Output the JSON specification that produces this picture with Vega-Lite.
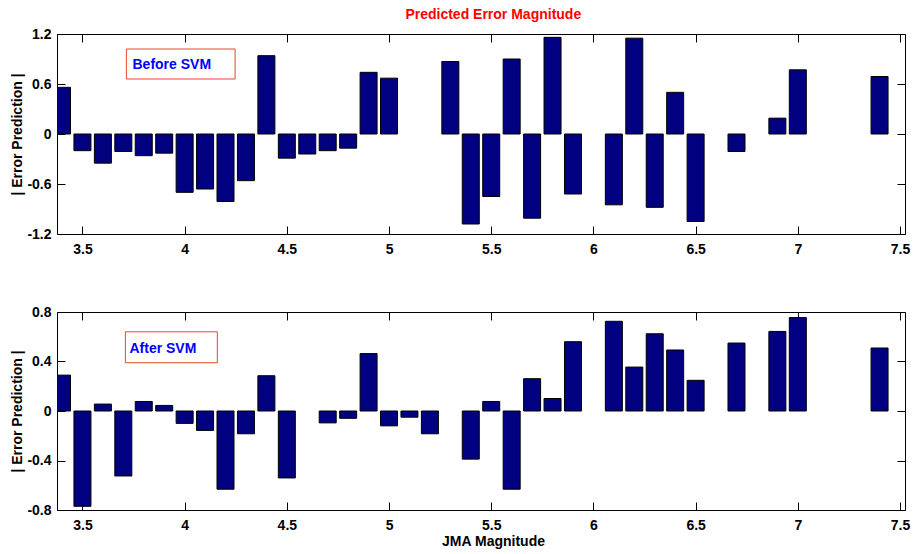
{
  "$schema": "https://vega.github.io/schema/vega-lite/v6.json",
  "background": "white",
  "padding": {"left": 10, "top": 7, "right": 3, "bottom": 4},
  "title": {"text": "Predicted Error Magnitude", "color": "#FF0000", "fontSize": 14, "font": "Liberation Sans", "fontWeight": "bold", "anchor": "middle", "dx": 33, "offset": 5},
  "spacing": 47,
  "config": {
    "font": "Liberation Sans",
    "view": {"stroke": "black", "strokeWidth": 1},
    "axis": {"grid": false, "domain": false, "tickColor": "black", "tickSize": -8, "tickWidth": 1, "labelFont": "Liberation Sans", "labelFontWeight": "bold", "labelFontSize": 14, "labelColor": "black", "titleFont": "Liberation Sans", "titleFontWeight": "bold", "titleFontSize": 14, "titleColor": "black"}
  },
  "datasets": {
    "before": [
      {"mag": 3.4, "err": 0.56}, {"mag": 3.5, "err": -0.2}, {"mag": 3.6, "err": -0.35}, {"mag": 3.7, "err": -0.21},
      {"mag": 3.8, "err": -0.26}, {"mag": 3.9, "err": -0.23}, {"mag": 4.0, "err": -0.7}, {"mag": 4.1, "err": -0.66},
      {"mag": 4.2, "err": -0.81}, {"mag": 4.3, "err": -0.56}, {"mag": 4.4, "err": 0.94}, {"mag": 4.5, "err": -0.29},
      {"mag": 4.6, "err": -0.24}, {"mag": 4.7, "err": -0.2}, {"mag": 4.8, "err": -0.17}, {"mag": 4.9, "err": 0.74},
      {"mag": 5.0, "err": 0.67}, {"mag": 5.3, "err": 0.87}, {"mag": 5.4, "err": -1.08}, {"mag": 5.5, "err": -0.75},
      {"mag": 5.6, "err": 0.9}, {"mag": 5.7, "err": -1.01}, {"mag": 5.8, "err": 1.16}, {"mag": 5.9, "err": -0.72},
      {"mag": 6.1, "err": -0.85}, {"mag": 6.2, "err": 1.15}, {"mag": 6.3, "err": -0.88}, {"mag": 6.4, "err": 0.5},
      {"mag": 6.5, "err": -1.05}, {"mag": 6.7, "err": -0.21}, {"mag": 6.9, "err": 0.19}, {"mag": 7.0, "err": 0.77},
      {"mag": 7.4, "err": 0.69}
    ],
    "after": [
      {"mag": 3.4, "err": 0.29}, {"mag": 3.5, "err": -0.77}, {"mag": 3.6, "err": 0.056}, {"mag": 3.7, "err": -0.525},
      {"mag": 3.8, "err": 0.077}, {"mag": 3.9, "err": 0.045}, {"mag": 4.0, "err": -0.1}, {"mag": 4.1, "err": -0.157},
      {"mag": 4.2, "err": -0.632}, {"mag": 4.3, "err": -0.184}, {"mag": 4.4, "err": 0.285}, {"mag": 4.5, "err": -0.541},
      {"mag": 4.7, "err": -0.096}, {"mag": 4.8, "err": -0.059}, {"mag": 4.9, "err": 0.464}, {"mag": 5.0, "err": -0.12},
      {"mag": 5.1, "err": -0.05}, {"mag": 5.2, "err": -0.184}, {"mag": 5.4, "err": -0.389}, {"mag": 5.5, "err": 0.077},
      {"mag": 5.6, "err": -0.632}, {"mag": 5.7, "err": 0.261}, {"mag": 5.8, "err": 0.101}, {"mag": 5.9, "err": 0.56},
      {"mag": 6.1, "err": 0.725}, {"mag": 6.2, "err": 0.355}, {"mag": 6.3, "err": 0.624}, {"mag": 6.4, "err": 0.493},
      {"mag": 6.5, "err": 0.248}, {"mag": 6.7, "err": 0.549}, {"mag": 6.9, "err": 0.643}, {"mag": 7.0, "err": 0.755},
      {"mag": 7.4, "err": 0.509}
    ]
  },
  "vconcat": [
    {
      "width": 848,
      "height": 200,
      "layer": [
        {
          "data": {"values": [{"label": "Before SVM"}]},
          "mark": {"type": "rect", "fill": "white", "stroke": "#E8452C", "strokeWidth": 1},
          "encoding": {
            "x": {"datum": 3.715, "type": "quantitative", "scale": {"domain": [3.4, 7.5], "nice": false, "zero": false}, "axis": {"orient": "top", "labels": false, "title": null, "values": [3.5, 4, 4.5, 5, 5.5, 6, 6.5, 7, 7.5]}},
            "x2": {"datum": 4.247},
            "y": {"datum": 1.02, "type": "quantitative", "scale": {"domain": [-1.2, 1.2], "nice": false, "zero": false}, "axis": {"orient": "right", "labels": false, "title": null, "values": [-1.2, -0.6, 0, 0.6, 1.2]}},
            "y2": {"datum": 0.66}
          }
        },
        {
          "data": {"values": [{"label": "Before SVM"}]},
          "mark": {"type": "text", "color": "#0000FF", "fontWeight": "bold", "fontSize": 14, "align": "left", "baseline": "middle", "font": "Liberation Sans"},
          "encoding": {
            "x": {"datum": 3.745, "type": "quantitative", "axis": null},
            "y": {"datum": 0.83, "type": "quantitative", "axis": null},
            "text": {"field": "label"}
          }
        },
        {
          "data": {"name": "before"},
          "mark": {"type": "bar", "width": 17, "fill": "#000080", "stroke": "black", "strokeWidth": 1, "clip": true},
          "encoding": {
            "x": {"field": "mag", "type": "quantitative", "axis": {"orient": "bottom", "title": null, "values": [3.5, 4, 4.5, 5, 5.5, 6, 6.5, 7, 7.5], "labelExpr": "'' + datum.value", "labelPadding": 16, "labelFlush": false}},
            "y": {"field": "err", "type": "quantitative", "axis": {"orient": "left", "title": "| Error Prediction |", "values": [-1.2, -0.6, 0, 0.6, 1.2], "labelExpr": "'' + datum.value", "labelPadding": 14, "titlePadding": 2}},
            "y2": {"datum": 0}
          }
        },
        {
          "mark": {"type": "rule", "color": "black", "strokeWidth": 1},
          "encoding": {"y": {"datum": 0, "type": "quantitative", "axis": null}}
        }
      ]
    },
    {
      "width": 848,
      "height": 198,
      "layer": [
        {
          "data": {"values": [{"label": "After SVM"}]},
          "mark": {"type": "rect", "fill": "white", "stroke": "#E8452C", "strokeWidth": 1},
          "encoding": {
            "x": {"datum": 3.71, "type": "quantitative", "scale": {"domain": [3.4, 7.5], "nice": false, "zero": false}, "axis": {"orient": "top", "labels": false, "title": null, "values": [3.5, 4, 4.5, 5, 5.5, 6, 6.5, 7, 7.5]}},
            "x2": {"datum": 4.16},
            "y": {"datum": 0.64, "type": "quantitative", "scale": {"domain": [-0.8, 0.8], "nice": false, "zero": false}, "axis": {"orient": "right", "labels": false, "title": null, "values": [-0.8, -0.4, 0, 0.4, 0.8]}},
            "y2": {"datum": 0.39}
          }
        },
        {
          "data": {"values": [{"label": "After SVM"}]},
          "mark": {"type": "text", "color": "#0000FF", "fontWeight": "bold", "fontSize": 14, "align": "left", "baseline": "middle", "font": "Liberation Sans"},
          "encoding": {
            "x": {"datum": 3.73, "type": "quantitative", "axis": null},
            "y": {"datum": 0.505, "type": "quantitative", "axis": null},
            "text": {"field": "label"}
          }
        },
        {
          "data": {"name": "after"},
          "mark": {"type": "bar", "width": 17, "fill": "#000080", "stroke": "black", "strokeWidth": 1, "clip": true},
          "encoding": {
            "x": {"field": "mag", "type": "quantitative", "axis": {"orient": "bottom", "title": "JMA Magnitude", "titleX": 436, "titlePadding": 2, "titleFontSize": 14, "values": [3.5, 4, 4.5, 5, 5.5, 6, 6.5, 7, 7.5], "labelExpr": "'' + datum.value", "labelPadding": 16, "labelFlush": false}},
            "y": {"field": "err", "type": "quantitative", "axis": {"orient": "left", "title": "| Error Prediction |", "values": [-0.8, -0.4, 0, 0.4, 0.8], "labelExpr": "'' + datum.value", "labelPadding": 14, "titlePadding": 2}},
            "y2": {"datum": 0}
          }
        },
        {
          "mark": {"type": "rule", "color": "black", "strokeWidth": 1},
          "encoding": {"y": {"datum": 0, "type": "quantitative", "axis": null}}
        }
      ]
    }
  ]
}
